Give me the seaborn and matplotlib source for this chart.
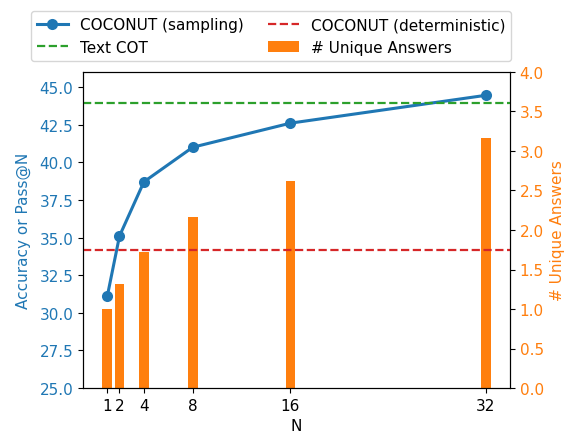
import matplotlib
matplotlib.use("Agg")
import matplotlib.pyplot as plt
import seaborn as sns
import pandas as pd

N_values = [1, 2, 4, 8, 16, 32]
coconut_sampling = [31.1, 35.1, 38.7, 41.0, 42.6, 44.45]
unique_answers = [1.0, 1.32, 1.72, 2.16, 2.62, 3.17]
text_cot = 43.95
coconut_deterministic = 34.2

blue = "#1f77b4"
orange = "#ff7f0e"

plt.rcParams["font.size"] = 11

df = pd.DataFrame({"N": N_values, "acc": coconut_sampling, "uniq": unique_answers})

fig = plt.figure(figsize=(5.69, 4.35), dpi=100)
ax1 = fig.add_axes([83/569, 1 - 389/435, (510-83)/569, (389-73)/435])
ax2 = ax1.twinx()

# bars on the secondary axis
ax2.bar(df["N"], df["uniq"], width=0.8, color=orange, label="# Unique Answers")

sns.lineplot(data=df, x="N", y="acc", ax=ax1, color=blue, marker="o",
             markersize=8, markeredgewidth=0, linewidth=2.2,
             label="COCONUT (sampling)", legend=False)
ax1.axhline(text_cot, color="#2ca02c", linestyle="--", linewidth=1.6, label="Text COT")
ax1.axhline(coconut_deterministic, color="#d62728", linestyle="--", linewidth=1.6,
            label="COCONUT (deterministic)")

ax1.set_zorder(ax2.get_zorder() + 1)
ax1.patch.set_visible(False)

ax1.set_ylim(25, 46)
ax2.set_ylim(0, 4)
ax1.set_xlim(-0.99, 33.99)
ax1.set_xticks(N_values)
ax1.set_xticklabels([str(n) for n in N_values])
lt = [25.0, 27.5, 30.0, 32.5, 35.0, 37.5, 40.0, 42.5, 45.0]
ax1.set_yticks(lt)
ax1.set_yticklabels([f"{v:.1f}" for v in lt])
rt = [0, 0.5, 1.0, 1.5, 2.0, 2.5, 3.0, 3.5, 4.0]
ax2.set_yticks(rt)
ax2.set_yticklabels([f"{v:.1f}" for v in rt])

ax1.set_xlabel("N")
ax1.set_ylabel("Accuracy or Pass@N", color=blue, labelpad=6)
ax2.set_ylabel("# Unique Answers", color=orange)
ax1.tick_params(axis="y", labelcolor=blue)
ax2.tick_params(axis="y", labelcolor=orange)

h1, lab1 = ax1.get_legend_handles_labels()
h2, lab2 = ax2.get_legend_handles_labels()
hd = dict(zip(lab1 + lab2, h1 + h2))
order = ["COCONUT (sampling)", "Text COT", "COCONUT (deterministic)", "# Unique Answers"]
fig.legend([hd[k] for k in order], order, ncol=2, loc="upper left",
           bbox_to_anchor=(31/569, 1 - 12/435), fontsize=11,
           borderaxespad=0, columnspacing=1.6)

fig.savefig("out.png", dpi=100)
